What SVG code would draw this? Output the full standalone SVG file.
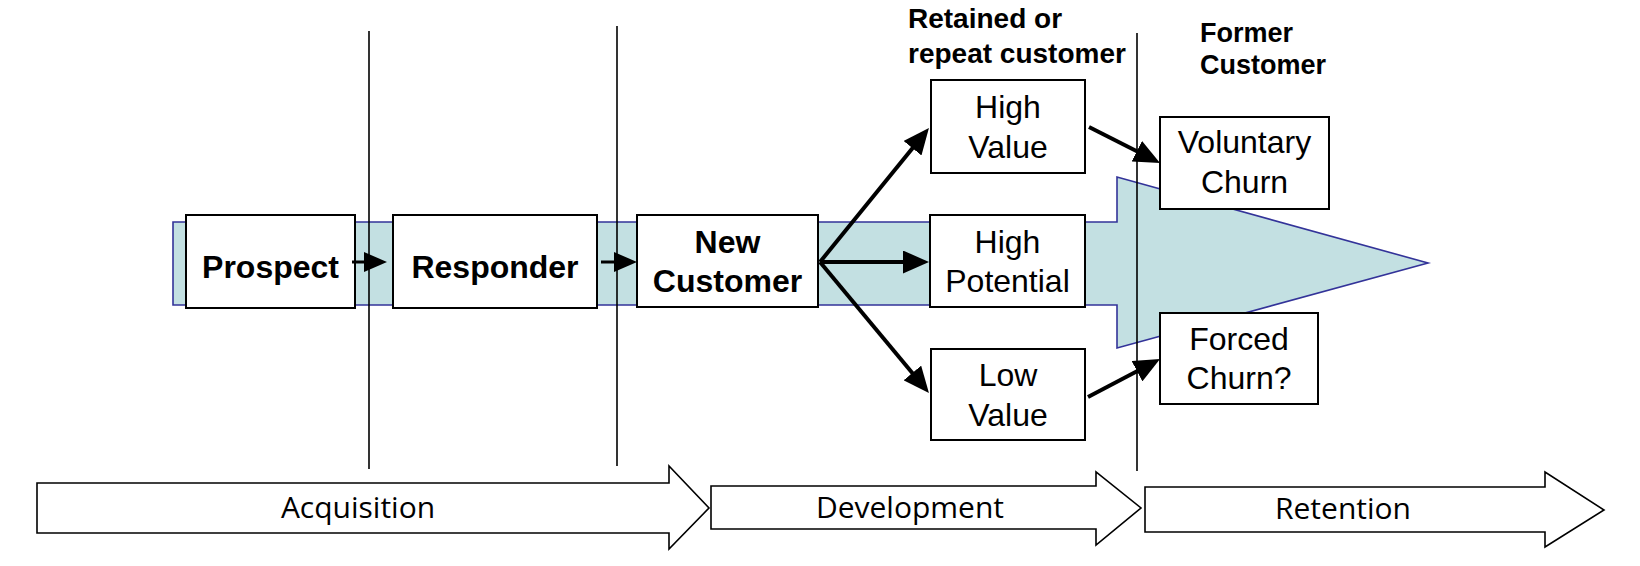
<svg xmlns="http://www.w3.org/2000/svg" width="1640" height="566" viewBox="0 0 1640 566">
<style>
.box{fill:#fff;stroke:#000;stroke-width:2}
.t{font-family:"Liberation Sans",Arial,sans-serif;font-size:32px;fill:#000;text-anchor:middle}
.b{font-weight:bold}
.hdr{font-family:"Liberation Sans",Arial,sans-serif;font-weight:bold;fill:#000}
.stage{fill:#fff;stroke:#000;stroke-width:1.6}
.st{font-family:"Open Sans","Liberation Sans",sans-serif;font-size:30px;fill:#000;text-anchor:middle}
.vl{stroke:#000;stroke-width:1.6}
.c{stroke:#000;stroke-width:4;fill:none}
.cs{stroke:#000;stroke-width:3;fill:none}
</style>
<defs>
<marker id="ah" markerUnits="userSpaceOnUse" markerWidth="27" markerHeight="23" refX="15" refY="11.5" orient="auto">
<path d="M0,0 L26,11.5 L0,23 z" fill="#000"/>
</marker>
<marker id="ahs" markerUnits="userSpaceOnUse" markerWidth="24" markerHeight="20" refX="12" refY="10" orient="auto">
<path d="M0,0 L23,10 L0,20 z" fill="#000"/>
</marker>
</defs>
<rect width="1640" height="566" fill="#fff"/>
<g id="flow-band">
<polygon points="173,222 1117,222 1117,177 1428,263 1117,348 1117,305 173,305" fill="#C3E0E2" stroke="#333399" stroke-width="1.6"/>
</g>
<g id="dividers">
<line class="vl" x1="369" y1="31" x2="369" y2="469"/>
<line class="vl" x1="617" y1="26" x2="617" y2="466"/>
<line class="vl" x1="1137" y1="33" x2="1137" y2="471"/>
</g>
<g id="header-retained">
<text class="hdr" font-size="28" x="908" y="28">Retained or</text>
<text class="hdr" font-size="28" x="908" y="63">repeat customer</text>
</g>
<g id="header-former">
<text class="hdr" font-size="27" x="1200" y="42">Former</text>
<text class="hdr" font-size="27" x="1200" y="74">Customer</text>
</g>
<g id="prospect">
<rect class="box" x="186" y="215" width="169" height="93"/>
<text class="t b" x="270.5" y="278">Prospect</text>
</g>
<g id="responder">
<rect class="box" x="393" y="215" width="204" height="93"/>
<text class="t b" x="495" y="278">Responder</text>
</g>
<g id="new-customer">
<rect class="box" x="637" y="215" width="181" height="92"/>
<text class="t b" x="727.5" y="253">New</text>
<text class="t b" x="727.5" y="292">Customer</text>
</g>
<g id="high-value">
<rect class="box" x="931" y="80" width="154" height="93"/>
<text class="t" x="1008" y="118">High</text>
<text class="t" x="1008" y="158">Value</text>
</g>
<g id="high-potential">
<rect class="box" x="930" y="215" width="155" height="92"/>
<text class="t" x="1007.5" y="253">High</text>
<text class="t" x="1007.5" y="292">Potential</text>
</g>
<g id="low-value">
<rect class="box" x="931" y="349" width="154" height="91"/>
<text class="t" x="1008" y="386">Low</text>
<text class="t" x="1008" y="426">Value</text>
</g>
<g id="voluntary-churn">
<rect class="box" x="1160" y="117" width="169" height="92"/>
<text class="t" x="1244.5" y="153">Voluntary</text>
<text class="t" x="1244.5" y="193">Churn</text>
</g>
<g id="forced-churn">
<rect class="box" x="1160" y="313" width="158" height="91"/>
<text class="t" x="1239" y="350">Forced</text>
<text class="t" x="1239" y="389">Churn?</text>
</g>
<g id="connectors">
<line class="cs" x1="352" y1="262" x2="376" y2="262" marker-end="url(#ahs)"/>
<line class="cs" x1="601" y1="262" x2="626" y2="262" marker-end="url(#ahs)"/>
<line class="c" x1="820" y1="262" x2="922" y2="136.6" marker-end="url(#ah)"/>
<line class="c" x1="820" y1="262" x2="918" y2="262" marker-end="url(#ah)"/>
<line class="c" x1="820" y1="262" x2="921.9" y2="384.5" marker-end="url(#ah)"/>
<line class="c" x1="1089" y1="127" x2="1150.2" y2="158" marker-end="url(#ah)"/>
<line class="c" x1="1088" y1="397" x2="1150.3" y2="364.2" marker-end="url(#ah)"/>
</g>
<g id="acquisition">
<polygon class="stage" points="37,483 669,483 669,466 709,508 669,549 669,533 37,533"/>
<text class="st" x="358" y="518">Acquisition</text>
</g>
<g id="development">
<polygon class="stage" points="711,486 1096,486 1096,472 1141,508 1096,545 1096,529 711,529"/>
<text class="st" x="910" y="518">Development</text>
</g>
<g id="retention">
<polygon class="stage" points="1145,487 1545,487 1545,472 1604,510 1545,547 1545,532 1145,532"/>
<text class="st" x="1343" y="519">Retention</text>
</g>
</svg>
